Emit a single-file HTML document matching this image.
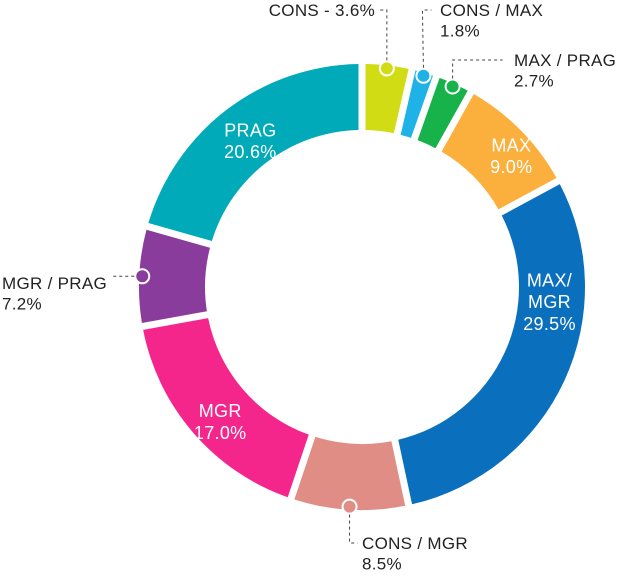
<!DOCTYPE html>
<html><head><meta charset="utf-8"><style>
body{margin:0;background:#fff;width:617px;height:573px;overflow:hidden}
svg text{font-family:"Liberation Sans",sans-serif}
</style></head><body>
<svg id="chart" width="617" height="573" viewBox="0 0 617 573"></svg>
<script>
const categories=["CONS","CONS / MAX","MAX / PRAG","MAX","MAX/ MGR","CONS / MGR","MGR","MGR / PRAG","PRAG"];
const values=[3.6,1.8,2.7,9.0,29.5,8.5,17.0,7.2,20.6];
const valueLabels=["3.6%","1.8%","2.7%","9.0%","29.5%","8.5%","17.0%","7.2%","20.6%"];
const colors=["#d2dc14","#1fb2e6","#17b24a","#fbaf3c","#0a70bd","#e08d86","#f4268c","#8a3c9c","#00aab8"];
const NS="http://www.w3.org/2000/svg";
const svg=document.getElementById("chart");
const cx=362,cy=287,R=223,r=157,gap=3.5;
const total=values.reduce((a,b)=>a+b,0);
function ang(v){return v/total*2*Math.PI;}
function pt(a,rad){return [cx+rad*Math.sin(a),cy-rad*Math.cos(a)];}
function mk(tag,attrs){const e=document.createElementNS(NS,tag);for(const k in attrs)e.setAttribute(k,attrs[k]);svg.appendChild(e);return e;}
let acc=0;
const mids=[];
values.forEach((v,i)=>{
  const a0=ang(acc),a1=ang(acc+v);acc+=v;
  const dO=gap/R,dI=gap/r;
  const p1=pt(a0+dO,R),p2=pt(a1-dO,R),p3=pt(a1-dI,r),p4=pt(a0+dI,r);
  const large=(a1-a0)>Math.PI?1:0;
  const p=mk("path",{d:`M${p1} A${R},${R} 0 ${large} 1 ${p2} L${p3} A${r},${r} 0 ${large} 0 ${p4} Z`,fill:colors[i]});
  
  
  mids.push((a0+a1)/2);
});
function label(x,y,lines,fill,anchor,size,name){
  const t=mk("text",{x:x,y:y,fill:fill,"text-anchor":anchor,"font-size":size,"letter-spacing":"0.3"});
  
  
  lines.forEach((l,k)=>{const s=document.createElementNS(NS,"tspan");s.setAttribute("x",x);if(k)s.setAttribute("dy",size*1.2);s.textContent=l;t.appendChild(s);});
}
// inside labels (small offsets to match reference placement)
const offs={3:[14,2],6:[2,10],8:[3,5]};
[3,6,8].forEach(i=>{
  const [x,y]=pt(mids[i],(R+r)/2);
  label(x+offs[i][0],y-4+offs[i][1],[categories[i],valueLabels[i]],"#fff","middle",18,"label-"+i);
});
{const [x,y]=pt(mids[4],(R+r)/2);
 label(x+15,y-80,["MAX/","MGR",valueLabels[4]],"#fff","middle",18,"label-max-mgr");}
// outside labels with dots and dashed leaders
function dot(i,name){const [x,y]=pt(mids[i],R-3);const c=mk("circle",{cx:x,cy:y,r:7,fill:colors[i],stroke:"#fff","stroke-width":2});return [x,y];}
const dash={stroke:"#444","stroke-width":1,"stroke-dasharray":"3,3",fill:"none"};
let d=dot(0,"dot-cons");mk("polyline",Object.assign({points:`${d[0]},${d[1]-8} ${d[0]},10 ${d[0]-9},10`},dash));
label(375,16,["CONS - "+valueLabels[0]],"#222","end",17,"label-cons");
d=dot(1,"dot-cons-max");mk("polyline",Object.assign({points:`${d[0]},${d[1]-8} ${d[0]-1},10 ${d[0]+8},10`},dash));
label(440,16,[categories[1],valueLabels[1]],"#222","start",17,"label-cons-max");
d=dot(2,"dot-max-prag");mk("polyline",Object.assign({points:`${d[0]},${d[1]-8} ${d[0]},60 ${d[0]+50},60`},dash));
label(514,66,[categories[2],valueLabels[2]],"#222","start",17,"label-max-prag");
d=dot(7,"dot-mgr-prag");mk("polyline",Object.assign({points:`${d[0]-8},${d[1]} ${d[0]-30},${d[1]}`},dash));
label(2,289,[categories[7],valueLabels[7]],"#222","start",17,"label-mgr-prag");
d=dot(5,"dot-cons-mgr");mk("polyline",Object.assign({points:`${d[0]},${d[1]+8} ${d[0]},543 ${d[0]+8},543`},dash));
label(362,549,[categories[5],valueLabels[5]],"#222","start",17,"label-cons-mgr");
</script>
</body></html>
